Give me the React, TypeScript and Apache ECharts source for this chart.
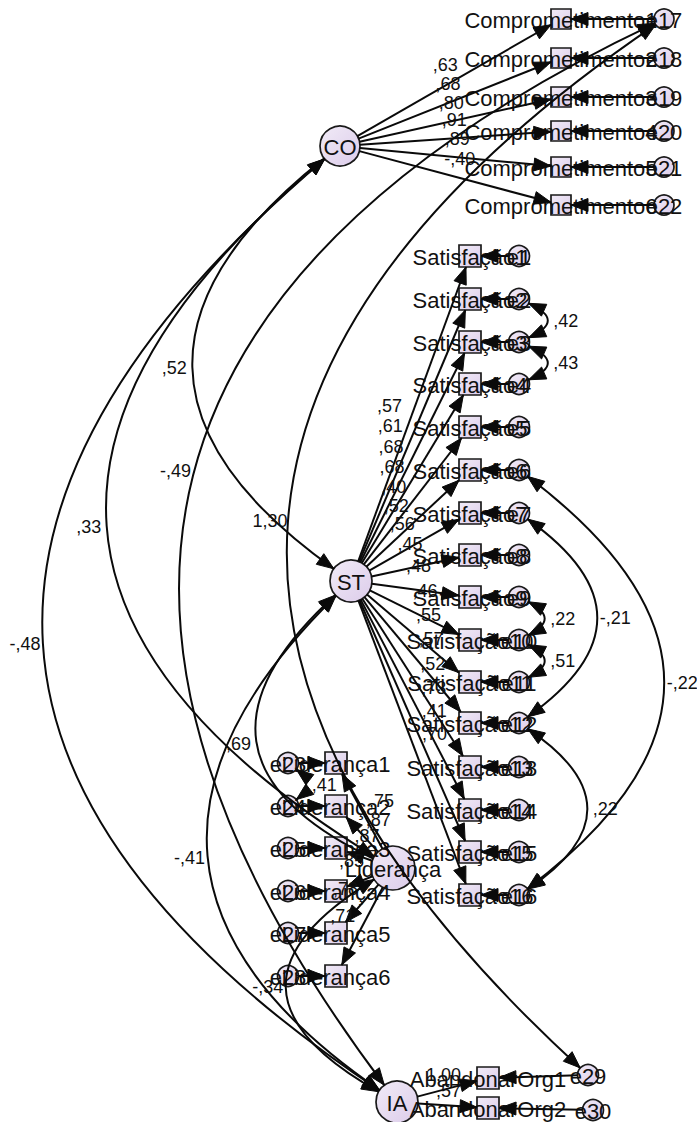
import React, { useEffect, useRef } from "react";
import * as echarts from "echarts";

const PAGE_W = 697;
const PAGE_H = 1122;

// ---- latent variables ----
const latentNames = ["CO", "ST", "Liderança", "IA"];
const latentX = [340, 351, 393, 397];
const latentY = [146, 581, 868, 1102];
const latentR = [20, 21, 22, 21];

// ---- Comprometimento block ----
const compItems = ["Comprometimento1", "Comprometimento2", "Comprometimento3", "Comprometimento4", "Comprometimento5", "Comprometimento6"];
const compErrors = ["e17", "e18", "e19", "e20", "e21", "e22"];
const compLoadings = [",63", ",68", ",80", ",91", ",89", "-,40"];
const compRowY = [19, 58, 97, 131, 167, 205];
const compBoxX = 561;
const compErrX = 664;

// ---- Satisfação block ----
const satItems = ["Satisfação1", "Satisfação2", "Satisfação3", "Satisfação4", "Satisfação5", "Satisfação6", "Satisfação7", "Satisfação8", "Satisfação9", "Satisfação10", "Satisfação11", "Satisfação12", "Satisfação13", "Satisfação14", "Satisfação15", "Satisfação16"];
const satErrors = ["e1", "e2", "e3", "e4", "e5", "e6", "e7", "e8", "e9", "e10", "e11", "e12", "e13", "e14", "e15", "e16"];
const satLoadings = [",57", ",61", ",68", ",68", ",40", ",52", ",56", ",45", ",48", ",46", ",55", ",57", ",52", ",73", ",41", ",70"];
const satRowY = [256, 299, 342, 384, 427, 470, 513, 555, 597, 640, 682, 723, 767, 810, 852, 895];
const satBoxX = 470;
const satErrX = 519;

// ---- Liderança block ----
const lidItems = ["Liderança1", "Liderança2", "Liderança3", "Liderança4", "Liderança5", "Liderança6"];
const lidErrors = ["e23", "e24", "e25", "e26", "e27", "e28"];
const lidLoadings = [",75", ",87", ",87", ",85", ",78", ",71"];
const lidRowY = [763, 806, 848, 891, 933, 976];
const lidBoxX = 336;
const lidErrX = 288;

// ---- Abandonar block ----
const abItems = ["AbandonarOrg1", "AbandonarOrg2"];
const abErrors = ["e29", "e30"];
const abLoadings = ["1,00", ",57"];
const abRowY = [1078, 1108];
const abBoxX = 488;
const abErrX = [588, 593];
const abErrY = [1075, 1110];

// ---- structural paths (single-headed) ----
const pathFrom = ["CO", "Liderança"];
const pathTo = ["ST", "ST"];
const pathValues = [",52", ",69"];
const pathBend = [-145, -108];

// ---- covariances (double-headed) ----
const covFrom = ["e2", "e3", "e9", "e10", "e7", "e6", "e12", "e23", "CO", "CO", "e17", "e17", "ST", "Liderança"];
const covTo = ["e3", "e4", "e10", "e11", "e12", "e16", "e16", "e24", "IA", "Liderança", "IA", "e29", "IA", "IA"];
const covValues = [",42", ",43", ",22", ",51", "-,21", "-,22", ",22", ",41", "-,48", ",33", "-,49", "1,30", "-,41", "-,34"];
const covBend = [24, 24, 21, 21, 74, 141, 64, 14, -318, -252, -342, -335, -159, -100];

type NodeT = { name: string; x: number; y: number; shape: "circle" | "rect"; r: number };
type EdgeT = { from: string; to: string; label: string; bend: number; heads: number; off: number };

function buildNodes(): NodeT[] {
  const n: NodeT[] = [];
  latentNames.forEach((name, i) => n.push({ name, x: latentX[i], y: latentY[i], shape: "circle", r: latentR[i] }));
  compItems.forEach((name, i) => {
    n.push({ name, x: compBoxX, y: compRowY[i], shape: "rect", r: 10 });
    n.push({ name: compErrors[i], x: compErrX, y: compRowY[i], shape: "circle", r: 10 });
  });
  satItems.forEach((name, i) => {
    n.push({ name, x: satBoxX, y: satRowY[i], shape: "rect", r: 11 });
    n.push({ name: satErrors[i], x: satErrX, y: satRowY[i], shape: "circle", r: 10.5 });
  });
  lidItems.forEach((name, i) => {
    n.push({ name, x: lidBoxX, y: lidRowY[i], shape: "rect", r: 11 });
    n.push({ name: lidErrors[i], x: lidErrX, y: lidRowY[i], shape: "circle", r: 10.5 });
  });
  abItems.forEach((name, i) => {
    n.push({ name, x: abBoxX, y: abRowY[i], shape: "rect", r: 11 });
    n.push({ name: abErrors[i], x: abErrX[i], y: abErrY[i], shape: "circle", r: 10.5 });
  });
  return n;
}

function buildEdges(): EdgeT[] {
  const e: EdgeT[] = [];
  compItems.forEach((it, i) => {
    e.push({ from: "CO", to: it, label: compLoadings[i], bend: 0, heads: 1, off: 18 });
    e.push({ from: compErrors[i], to: it, label: "", bend: 0, heads: 1, off: 0 });
  });
  satItems.forEach((it, i) => {
    e.push({ from: "ST", to: it, label: satLoadings[i], bend: 0, heads: 1, off: 24 });
    e.push({ from: satErrors[i], to: it, label: "", bend: 0, heads: 1, off: 0 });
  });
  lidItems.forEach((it, i) => {
    e.push({ from: "Liderança", to: it, label: lidLoadings[i], bend: 0, heads: 1, off: 22 });
    e.push({ from: lidErrors[i], to: it, label: "", bend: 0, heads: 1, off: 0 });
  });
  abItems.forEach((it, i) => {
    e.push({ from: "IA", to: it, label: abLoadings[i], bend: 0, heads: 1, off: 14 });
    e.push({ from: abErrors[i], to: it, label: "", bend: 0, heads: 1, off: 0 });
  });
  pathFrom.forEach((f, i) => e.push({ from: f, to: pathTo[i], label: pathValues[i], bend: pathBend[i], heads: 1, off: 18 }));
  covFrom.forEach((f, i) => e.push({ from: f, to: covTo[i], label: covValues[i], bend: covBend[i], heads: 2, off: 18 }));
  return e;
}

const FONT_MAIN = '22px "Liberation Sans", Arial, Helvetica, sans-serif';
const FONT_COEF = '18px "Liberation Sans", Arial, Helvetica, sans-serif';
const INK = "#0a0a0a";

export default function App() {
  const ref = useRef<HTMLDivElement>(null);

  useEffect(() => {
    const el = ref.current;
    if (!el) return;
    const chart = echarts.init(el, undefined, { renderer: "svg" });
    const nodes = buildNodes();
    const nodeMap = new Map<string, NodeT>();
    nodes.forEach((n) => nodeMap.set(n.name, n));
    const edges = buildEdges();

    const norm = (v: number[]) => {
      const l = Math.hypot(v[0], v[1]) || 1;
      return [v[0] / l, v[1] / l];
    };
    const boundary = (n: NodeT, ux: number, uy: number) => {
      if (n.shape === "circle") return n.r;
      const ax = Math.abs(ux);
      const ay = Math.abs(uy);
      const tx = ax > 1e-6 ? n.r / ax : Infinity;
      const ty = ay > 1e-6 ? n.r / ay : Infinity;
      return Math.min(tx, ty);
    };
    const arrow = (tip: number[], back: number[]) => {
      const L = 17;
      const hw = 6.5;
      const qx = -back[1];
      const qy = back[0];
      const bx = tip[0] + back[0] * L;
      const by = tip[1] + back[1] * L;
      return {
        type: "polygon",
        shape: { points: [[tip[0], tip[1]], [bx + qx * hw, by + qy * hw], [bx - qx * hw, by - qy * hw]] },
        style: { fill: INK, stroke: INK, lineWidth: 1 },
      };
    };

    const grad = () =>
      new echarts.graphic.LinearGradient(0, 0, 1, 1, [
        { offset: 0, color: "#F1EBF7" },
        { offset: 1, color: "#DCCCEA" },
      ]);

    const option: any = {
      animation: false,
      backgroundColor: "#ffffff",
      grid: { left: 0, right: 0, top: 0, bottom: 0 },
      xAxis: { type: "value", min: 0, max: PAGE_W, show: false },
      yAxis: { type: "value", min: 0, max: PAGE_H, inverse: true, show: false },
      series: [
        {
          type: "custom",
          name: "shapes",
          z: 1,
          silent: true,
          clip: false,
          encode: { x: 0, y: 1 },
          data: nodes.map((n) => [n.x, n.y]),
          renderItem: (params: any, api: any) => {
            const n = nodes[params.dataIndex];
            const p = api.coord([n.x, n.y]);
            const style = { fill: grad(), stroke: "#1a1a1a", lineWidth: 1.7 };
            if (n.shape === "circle") {
              return { type: "circle", shape: { cx: p[0], cy: p[1], r: n.r }, style };
            }
            return { type: "rect", shape: { x: p[0] - n.r, y: p[1] - n.r, width: 2 * n.r, height: 2 * n.r }, style };
          },
        },
        {
          type: "custom",
          name: "texts",
          z: 2,
          silent: true,
          clip: false,
          encode: { x: 0, y: 1 },
          data: nodes.map((n) => [n.x, n.y]),
          renderItem: (params: any, api: any) => {
            const n = nodes[params.dataIndex];
            const p = api.coord([n.x, n.y]);
            return {
              type: "text",
              style: {
                text: n.name,
                x: p[0],
                y: p[1] + 1,
                align: "center",
                verticalAlign: "middle",
                font: FONT_MAIN,
                fill: "#111111",
              },
            };
          },
        },
        {
          type: "custom",
          name: "edges",
          z: 3,
          silent: true,
          clip: false,
          encode: { x: [0, 2], y: [1, 3] },
          data: edges.map((e) => {
            const A = nodeMap.get(e.from)!;
            const B = nodeMap.get(e.to)!;
            return [A.x, A.y, B.x, B.y];
          }),
          renderItem: (params: any, api: any) => {
            const e = edges[params.dataIndex];
            const A = nodeMap.get(e.from)!;
            const B = nodeMap.get(e.to)!;
            const pa = api.coord([A.x, A.y]);
            const pb = api.coord([B.x, B.y]);
            const dx = pb[0] - pa[0];
            const dy = pb[1] - pa[1];
            const L = Math.hypot(dx, dy) || 1;
            let cp: number[] | null = null;
            if (e.bend !== 0) {
              let nx = dy / L;
              let ny = -dx / L;
              if (nx < 0) {
                nx = -nx;
                ny = -ny;
              }
              cp = [(pa[0] + pb[0]) / 2 + nx * 2 * e.bend, (pa[1] + pb[1]) / 2 + ny * 2 * e.bend];
            }
            const ua = norm(cp ? [cp[0] - pa[0], cp[1] - pa[1]] : [dx, dy]);
            const ub = norm(cp ? [cp[0] - pb[0], cp[1] - pb[1]] : [-dx, -dy]);
            const da = boundary(A, ua[0], ua[1]);
            const db = boundary(B, ub[0], ub[1]);
            const s = [pa[0] + ua[0] * da, pa[1] + ua[1] * da];
            const t = [pb[0] + ub[0] * db, pb[1] + ub[1] * db];
            const children: any[] = [];
            const lineStyle = { stroke: INK, lineWidth: 2, fill: "none" };
            if (cp) {
              children.push({
                type: "bezierCurve",
                shape: { x1: s[0], y1: s[1], x2: t[0], y2: t[1], cpx1: cp[0], cpy1: cp[1] },
                style: lineStyle,
              });
            } else {
              children.push({ type: "line", shape: { x1: s[0], y1: s[1], x2: t[0], y2: t[1] }, style: lineStyle });
            }
            children.push(arrow(t, ub));
            if (e.heads === 2) children.push(arrow(s, ua));
            if (e.label) {
              let lx: number;
              let ly: number;
              const mx = (s[0] + t[0]) / 2;
              const my = (s[1] + t[1]) / 2;
              if (cp) {
                const ax = 0.25 * s[0] + 0.5 * cp[0] + 0.25 * t[0];
                const ay = 0.25 * s[1] + 0.5 * cp[1] + 0.25 * t[1];
                const o = norm([ax - mx, ay - my]);
                lx = ax + o[0] * e.off;
                ly = ay + o[1] * e.off;
              } else {
                const u = norm([t[0] - s[0], t[1] - s[1]]);
                let px = -u[1];
                let py = u[0];
                if (py > 0) {
                  px = -px;
                  py = -py;
                }
                lx = mx + px * e.off;
                ly = my + py * e.off;
              }
              children.push({
                type: "text",
                style: {
                  text: e.label,
                  x: lx,
                  y: ly,
                  align: "center",
                  verticalAlign: "middle",
                  font: FONT_COEF,
                  fill: "#111111",
                },
              });
            }
            return { type: "group", children };
          },
        },
      ],
    };
    chart.setOption(option);
    return () => chart.dispose();
  }, []);

  return (
    <div
      ref={ref}
      style={{ position: "absolute", left: 0, top: 0, width: PAGE_W, height: PAGE_H, background: "#fff" }}
    />
  );
}
